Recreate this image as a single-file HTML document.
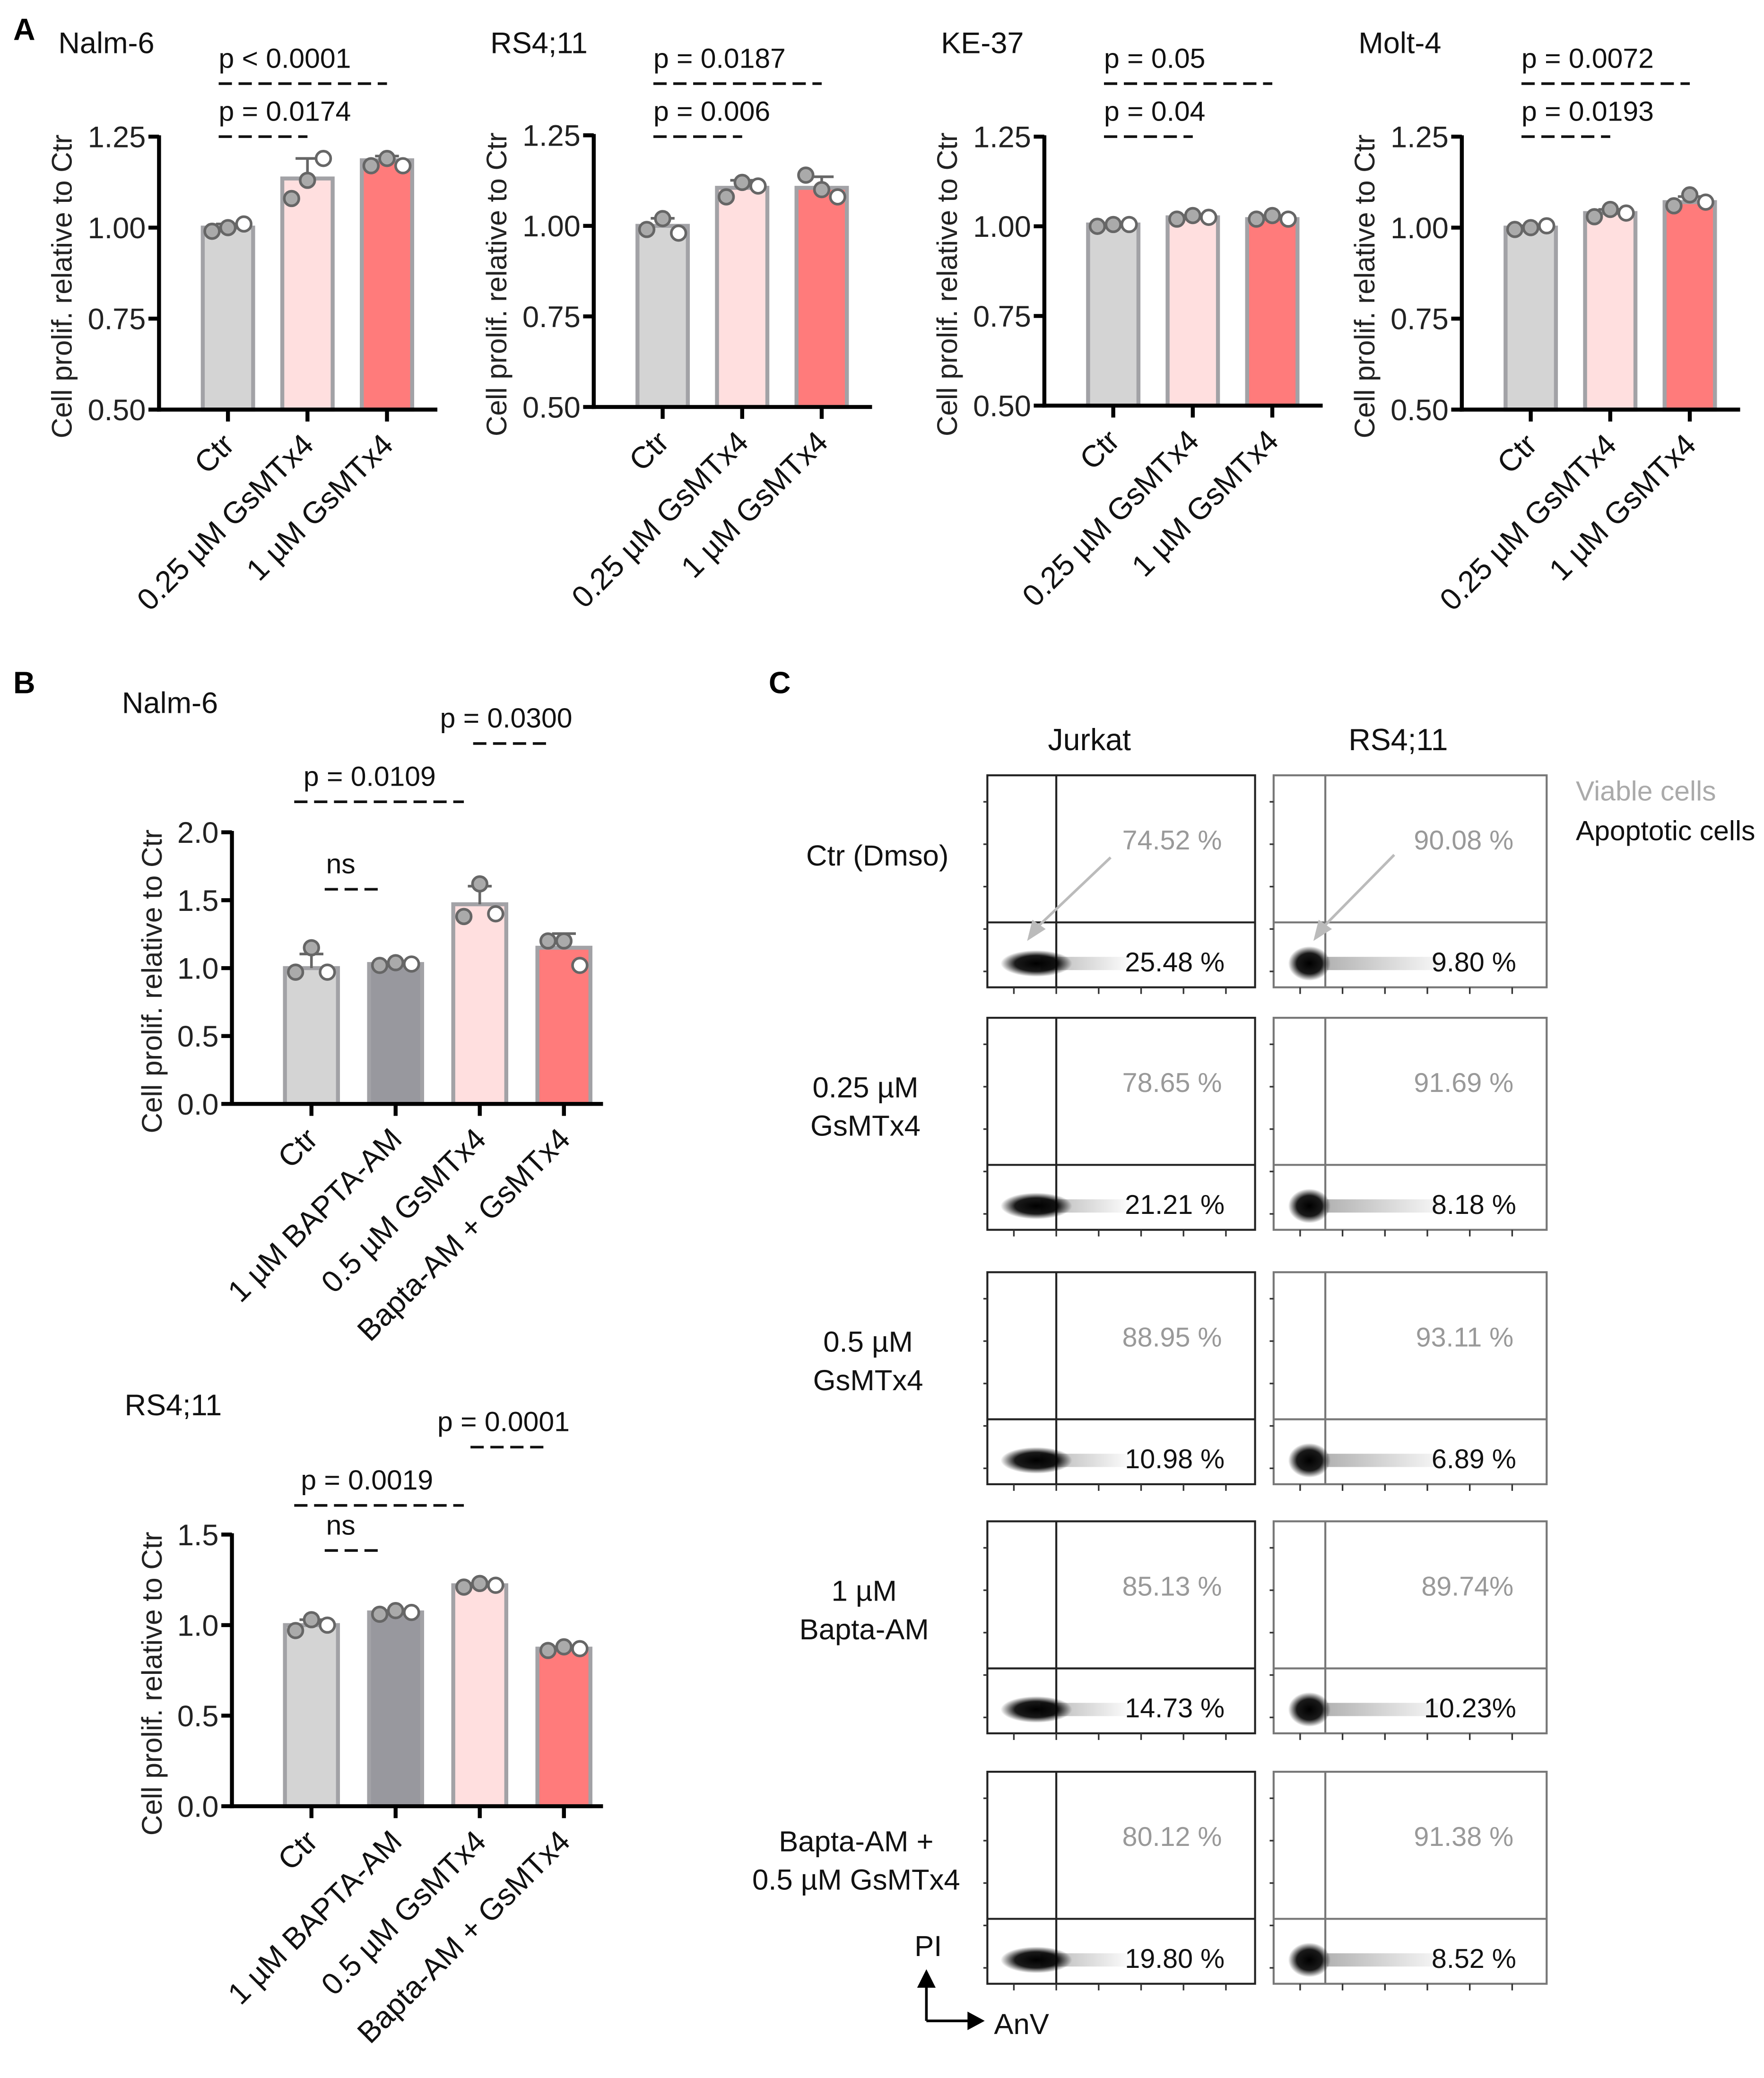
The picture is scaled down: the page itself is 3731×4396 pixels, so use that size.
<!DOCTYPE html>
<html><head><meta charset="utf-8"><style>
html,body{margin:0;padding:0;background:#fff}
svg{display:block;font-family:"Liberation Sans",Arial,sans-serif}
</style></head><body>
<svg id="fig" width="3731" height="4396" viewBox="0 0 1331 1568" xmlns="http://www.w3.org/2000/svg">
<rect width="1331" height="1568" fill="#fff"/>
<g id="root"></g>
</svg>
<script>
// ---- Panel A data ----
const catsA = ["Ctr", "0.25 µM GsMTx4", "1 µM GsMTx4"];
const nalmA_means = [1.0, 1.135, 1.185];
const nalmA_pts = [[0.99, 1.0, 1.01], [1.08, 1.13, 1.19], [1.17, 1.19, 1.17]];
const rsA_means = [1.0, 1.105, 1.105];
const rsA_pts = [[0.99, 1.02, 0.98], [1.08, 1.12, 1.11], [1.14, 1.1, 1.08]];
const keA_means = [1.005, 1.025, 1.02];
const keA_pts = [[1.0, 1.005, 1.005], [1.02, 1.03, 1.025], [1.02, 1.03, 1.02]];
const moltA_means = [1.0, 1.04, 1.07];
const moltA_pts = [[0.995, 1.0, 1.005], [1.03, 1.05, 1.04], [1.06, 1.09, 1.07]];
const ticksA = [0.5, 0.75, 1.0, 1.25];
const tickLabelsA = ["0.50", "0.75", "1.00", "1.25"];
// ---- Panel B data ----
const catsB = ["Ctr", "1 µM BAPTA-AM", "0.5 µM GsMTx4", "Bapta-AM + GsMTx4"];
const nalmB_means = [1.0, 1.03, 1.47, 1.15];
const nalmB_pts = [[0.97, 1.15, 0.97], [1.02, 1.04, 1.03], [1.38, 1.62, 1.4], [1.2, 1.2, 1.02]];
const ticksB1 = [0, 0.5, 1.0, 1.5, 2.0];
const tickLabelsB1 = ["0.0", "0.5", "1.0", "1.5", "2.0"];
const rsB_means = [1.0, 1.07, 1.22, 0.87];
const rsB_pts = [[0.97, 1.03, 1.0], [1.06, 1.08, 1.07], [1.21, 1.23, 1.22], [0.86, 0.88, 0.87]];
const ticksB2 = [0, 0.5, 1.0, 1.5];
const tickLabelsB2 = ["0.0", "0.5", "1.0", "1.5"];
// ---- Panel C data ----
const rowLabels = [["Ctr (Dmso)"], ["0.25 µM", "GsMTx4"], ["0.5 µM", "GsMTx4"], ["1 µM", "Bapta-AM"], ["Bapta-AM +", "0.5 µM  GsMTx4"]];
const jurkatViable = ["74.52 %", "78.65 %", "88.95 %", "85.13 %", "80.12 %"];
const jurkatApop = ["25.48 %", "21.21 %", "10.98 %", "14.73 %", "19.80 %"];
const rsViable = ["90.08 %", "91.69 %", "93.11 %", "89.74%", "91.38 %"];
const rsApop = ["9.80 %", "8.18 %", "6.89 %", "10.23%", "8.52 %"];

const NS = "http://www.w3.org/2000/svg";
const root = document.getElementById('root');
function mk(tag, attrs, parent, text) {
  const e = document.createElementNS(NS, tag);
  for (const k in attrs) e.setAttribute(k, attrs[k]);
  if (text !== undefined) e.textContent = text;
  (parent || root).appendChild(e);
  return e;
}
function sd(a) { const m = a.reduce((s, v) => s + v, 0) / a.length; return Math.sqrt(a.reduce((s, v) => s + (v - m) * (v - m), 0) / (a.length - 1)); }

function barChart(o) {
  const g = mk('g', {});
  
  
  const y = v => o.y0 - (v - o.ymin) / (o.ymax - o.ymin) * (o.y0 - o.y1);
  const x = i => o.ax + o.first + i * o.step;
  o.means.forEach((m, i) => {
    const r = mk('rect', { x: x(i) - o.bw / 2, y: y(m), width: o.bw, height: o.y0 - y(m), fill: o.colors[i], stroke: '#a2a2a6', 'stroke-width': 3 }, g);
    
    
    const s = sd(o.pts[i]);
    mk('line', { x1: x(i), x2: x(i), y1: y(m), y2: y(m + s), stroke: '#666', 'stroke-width': 2 }, g);
    mk('line', { x1: x(i) - 9, x2: x(i) + 9, y1: y(m + s), y2: y(m + s), stroke: '#666', 'stroke-width': 2 }, g);
    o.pts[i].forEach((p, j) => {
      const c = mk('circle', { cx: x(i) + (j - 1) * 12, cy: y(p), r: 5.5, fill: j == 2 ? '#fff' : '#aaa', stroke: '#666', 'stroke-width': 2 }, g);
      
      
    });
  });
  mk('line', { x1: o.ax, x2: o.ax, y1: o.y1 - 1, y2: o.y0 + 1.5, stroke: '#000', 'stroke-width': 3 }, g);
  mk('line', { x1: o.ax - 1.5, x2: o.ax + o.xlen, y1: o.y0, y2: o.y0, stroke: '#000', 'stroke-width': 3 }, g);
  o.ticks.forEach((t, i) => {
    mk('line', { x1: o.ax - 8, x2: o.ax, y1: y(t), y2: y(t), stroke: '#000', 'stroke-width': 3 }, g);
    const tl = mk('text', { x: o.ax - 10, y: y(t) + 8, 'text-anchor': 'end', 'font-size': 22.5, fill: '#222' }, g, o.tickLabels[i]);
    
    
  });
  o.cats.forEach((c, i) => {
    mk('line', { x1: x(i), x2: x(i), y1: o.y0, y2: o.y0 + 9, stroke: '#000', 'stroke-width': 3 }, g);
    const tl = mk('text', { x: x(i) + 6, y: o.y0 + 28, 'text-anchor': 'end', 'font-size': 23, fill: '#111', transform: `rotate(-45 ${x(i) + 6} ${o.y0 + 28})` }, g, c);
    
    
  });
  const ym = (o.y0 + o.y1) / 2 + 10;
  const at = mk('text', { x: o.ax - o.titleOff, y: ym, 'text-anchor': 'middle', 'font-size': 21.5, fill: '#222', transform: `rotate(-90 ${o.ax - o.titleOff} ${ym})` }, g, 'Cell prolif. relative to Ctr');
  
  
  const tt = mk('text', { x: o.tx, y: o.ty, 'font-size': 22.5, fill: '#111' }, g, o.title);
  
  
  o.sig.forEach(s => {
    mk('line', { x1: s[0], x2: s[1], y1: s[2], y2: s[2], stroke: '#111', 'stroke-width': 2, 'stroke-dasharray': '10 5' }, g);
    const st = mk('text', { x: s[3], y: s[2] - 12, 'font-size': 21, fill: '#111' }, g, s[4]);
    
    
  });
}
const colA = ['#d4d4d4', '#ffdfdf', '#ff7b7b'];
const colB = ['#d4d4d4', '#98989e', '#ffdfdf', '#ff7b7b'];
const As = [
  { name: 'chart-nalm6-a', ax: 120, title: 'Nalm-6', tx: 44, means: nalmA_means, pts: nalmA_pts, y1: 103, y0: 309, p: ['p < 0.0001', 'p = 0.0174'] },
  { name: 'chart-rs411-a', ax: 448, title: 'RS4;11', tx: 370, means: rsA_means, pts: rsA_pts, y1: 102, y0: 307, p: ['p = 0.0187', 'p = 0.006'] },
  { name: 'chart-ke37-a', ax: 788, title: 'KE-37', tx: 710, means: keA_means, pts: keA_pts, y1: 103, y0: 306, p: ['p = 0.05', 'p = 0.04'] },
  { name: 'chart-molt4-a', ax: 1103, title: 'Molt-4', tx: 1025, means: moltA_means, pts: moltA_pts, y1: 103, y0: 309, p: ['p = 0.0072', 'p = 0.0193'] }
];
As.forEach(a => {
  barChart({ name: a.name, ax: a.ax, y0: a.y0, y1: a.y1, ymin: 0.5, ymax: 1.25, ticks: ticksA, tickLabels: tickLabelsA, cats: catsA, means: a.means, pts: a.pts, colors: colA, first: 52, step: 60, bw: 38, xlen: 210, titleOff: 66, title: a.title, tx: a.tx, ty: 40,
    sig: [[a.ax + 45, a.ax + 172, 63, a.ax + 45, a.p[0]], [a.ax + 45, a.ax + 112, 103, a.ax + 45, a.p[1]]] });
});
barChart({ name: 'chart-nalm6-b', ax: 175, y0: 833, y1: 628, ymin: 0, ymax: 2.0, ticks: ticksB1, tickLabels: tickLabelsB1, cats: catsB, means: nalmB_means, pts: nalmB_pts, colors: colB, first: 60, step: 63.5, bw: 40, xlen: 280, titleOff: 53, title: 'Nalm-6', tx: 92, ty: 538,
  sig: [[245, 285, 671, 246, 'ns'], [222, 350, 605, 229, 'p = 0.0109'], [357, 417, 561, 332, 'p = 0.0300']] });
barChart({ name: 'chart-rs411-b', ax: 175, y0: 1363, y1: 1158, ymin: 0, ymax: 1.5, ticks: ticksB2, tickLabels: tickLabelsB2, cats: catsB, means: rsB_means, pts: rsB_pts, colors: colB, first: 60, step: 63.5, bw: 40, xlen: 280, titleOff: 53, title: 'RS4;11', tx: 94, ty: 1068,
  sig: [[245, 285, 1170, 246, 'ns'], [222, 350, 1136, 227, 'p = 0.0019'], [355, 415, 1092, 330, 'p = 0.0001']] });

[['A', 10, 30], ['B', 10, 523], ['C', 580, 523]].forEach(l => {
  const t = mk('text', { x: l[1], y: l[2], 'font-size': 23, 'font-weight': 'bold', fill: '#000' }, root, l[0]);
  
  
});

// ---- Panel C flow plots ----
const defs = mk('defs', {});
const rg = mk('radialGradient', { id: 'blob' }, defs);
mk('stop', { offset: '0', 'stop-color': '#000', 'stop-opacity': 1 }, rg);
mk('stop', { offset: '0.6', 'stop-color': '#000', 'stop-opacity': 0.9 }, rg);
mk('stop', { offset: '1', 'stop-color': '#000', 'stop-opacity': 0 }, rg);
const rg2 = mk('linearGradient', { id: 'tail' }, defs);
mk('stop', { offset: '0', 'stop-color': '#000', 'stop-opacity': 0.5 }, rg2);
mk('stop', { offset: '1', 'stop-color': '#000', 'stop-opacity': 0 }, rg2);

const rowTops = [585, 768, 960, 1148, 1337];
const rowCx = [662, 653, 655, 652, 646];
const colX = [[745, 947, 797], [961, 1167, 1000]];
const colH = ['Jurkat', 'RS4;11'];
const colHX = [822, 1055];
colH.forEach((h, i) => {
  const t = mk('text', { x: colHX[i], y: 566, 'text-anchor': 'middle', 'font-size': 23, fill: '#111' }, root, h);
  
  
});
const vl = mk('text', { x: 1189, y: 604, 'font-size': 21, fill: '#aaa' }, root, 'Viable cells');
 
const al = mk('text', { x: 1189, y: 634, 'font-size': 21, fill: '#111' }, root, 'Apoptotic cells');
 

rowTops.forEach((top, r) => {
  const lines = rowLabels[r];
  lines.forEach((s, k) => {
    const t = mk('text', { x: rowCx[r], y: top + 68 + k * 29 - (lines.length - 1) * 8, 'text-anchor': 'middle', 'font-size': 22, fill: '#111' }, root, s);
    
    
  });
  colX.forEach((c, ci) => {
    const h = 160, bot = top + h, gy = top + 111;
    const g = mk('g', {});
    
    
    const stc = ci ? '#777' : '#222';
    mk('rect', { x: c[0], y: top, width: c[1] - c[0], height: h, fill: 'none', stroke: stc, 'stroke-width': 1.5 }, g);
    mk('line', { x1: c[2], x2: c[2], y1: top, y2: bot, stroke: stc, 'stroke-width': 1.5 }, g);
    mk('line', { x1: c[0], x2: c[1], y1: gy, y2: gy, stroke: stc, 'stroke-width': 1.5 }, g);
    for (let k = 0; k < 6; k++) mk('line', { x1: c[0] + 20 + k * 32, x2: c[0] + 20 + k * 32, y1: bot, y2: bot + 5, stroke: '#333', 'stroke-width': 1.2 }, g);
    for (let k = 0; k < 5; k++) mk('line', { x1: c[0] - 3, x2: c[0], y1: top + 20 + k * 32, y2: top + 20 + k * 32, stroke: '#333', 'stroke-width': 1.2 }, g);
    const by = bot - 18;
    mk('rect', { x: c[0] + 40, y: by - 5, width: ci ? 95 : 70, height: 10, fill: 'url(#tail)', opacity: 0.6 }, g);
    mk('ellipse', { cx: c[0] + (ci ? 27 : 37), cy: by, rx: ci ? 16 : 27, ry: ci ? 13 : 10, fill: 'url(#blob)' }, g);
    const vt = mk('text', { x: c[1] - 25, y: top + 56, 'text-anchor': 'end', 'font-size': 20.5, fill: '#999' }, g, ci ? rsViable[r] : jurkatViable[r]);
     
    const at2 = mk('text', { x: c[1] - 23, y: bot - 12, 'text-anchor': 'end', 'font-size': 20.5, fill: '#111' }, g, ci ? rsApop[r] : jurkatApop[r]);
     
    if (r === 0) {
      const ax2 = ci ? 1052 : 838, ay2 = ci ? 645 : 647;
      mk('line', { x1: ax2, y1: ay2, x2: c[0] + 33, y2: gy + 8, stroke: '#bbb', 'stroke-width': 2 }, g);
      const tx = c[0] + 30, ty = gy + 14;
      mk('polygon', { points: `${tx},${ty} ${tx + 4},${ty - 16} ${tx + 14},${ty - 9}`, fill: '#bbb' }, g);
    }
  });
});
mk('line', { x1: 699, x2: 699, y1: 1490, y2: 1525, stroke: '#000', 'stroke-width': 2 });
mk('polygon', { points: '692,1500 706,1500 699,1486', fill: '#000' });
mk('line', { x1: 699, x2: 733, y1: 1525, y2: 1525, stroke: '#000', 'stroke-width': 2 });
mk('polygon', { points: '730,1518 730,1532 743,1525', fill: '#000' });
const pi = mk('text', { x: 690, y: 1476, 'font-size': 22, fill: '#111' }, root, 'PI');
 
const anv = mk('text', { x: 750, y: 1535, 'font-size': 22, fill: '#111' }, root, 'AnV');
 
</script>
</body></html>
